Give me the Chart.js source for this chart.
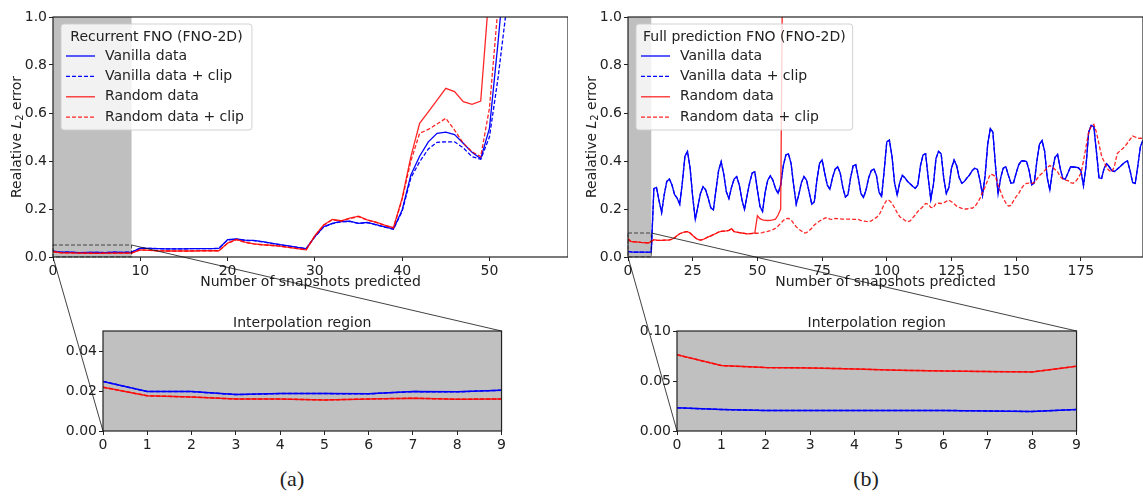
<!DOCTYPE html>
<html>
<head>
<meta charset="utf-8">
<script src="https://cdn.jsdelivr.net/npm/chart.js@4.4.0/dist/chart.umd.min.js"></script>
<style>
  body { margin: 0; background: #fff; width: 1143px; height: 497px; position: relative; overflow: hidden; }
  .wrap { position: absolute; }
  .cap { position: absolute; top: 466px; font-family: "Liberation Serif", serif; font-size: 22px; color: #222; transform: translateX(-50%); }
  #overlay { position: absolute; left: 0; top: 0; pointer-events: none; }
</style>
</head>
<body>
<div class="wrap" id="wrapA" style="left:0;top:0;width:568px;height:300px"><canvas id="mainA"></canvas></div>
<div class="wrap" id="wrapB" style="left:575px;top:0;width:568px;height:300px"><canvas id="mainB"></canvas></div>
<div class="wrap" id="wrapC" style="left:50px;top:305px;width:458px;height:160px"><canvas id="insetA"></canvas></div>
<div class="wrap" id="wrapD" style="left:624px;top:305px;width:459px;height:160px"><canvas id="insetB"></canvas></div>
<div class="cap" style="left:292px">(a)</div>
<div class="cap" style="left:866px">(b)</div>
<canvas id="overlay" width="1143" height="497"></canvas>

<script>
// --- data ---
const seriesNames = ['Vanilla data', 'Vanilla data + clip', 'Random data', 'Random data + clip'];

// (a) recurrent FNO, one value per predicted snapshot (values above 1 leave the plot)
const recVanilla = [0.0248, 0.0197, 0.0197, 0.0182, 0.0187, 0.0187, 0.0186, 0.0197, 0.0196, 0.0204,
  0.037, 0.036, 0.035, 0.034, 0.034, 0.034, 0.035, 0.035, 0.035, 0.036,
  0.072, 0.075, 0.070, 0.069, 0.064, 0.058, 0.052, 0.046, 0.040, 0.035,
  0.085, 0.126, 0.140, 0.148, 0.149, 0.140, 0.144, 0.135, 0.126, 0.117,
  0.196, 0.342, 0.420, 0.480, 0.515, 0.520, 0.510, 0.474, 0.436, 0.410,
  0.536, 0.900, 1.300];
const recVanillaClip = [0.0248, 0.0197, 0.0197, 0.0182, 0.0187, 0.0187, 0.0186, 0.0197, 0.0196, 0.0204,
  0.037, 0.036, 0.035, 0.034, 0.034, 0.034, 0.035, 0.035, 0.035, 0.036,
  0.071, 0.074, 0.069, 0.068, 0.063, 0.057, 0.051, 0.045, 0.040, 0.035,
  0.084, 0.125, 0.139, 0.147, 0.148, 0.140, 0.143, 0.134, 0.125, 0.116,
  0.190, 0.330, 0.397, 0.450, 0.478, 0.480, 0.480, 0.455, 0.418, 0.407,
  0.500, 0.750, 1.050, 1.500];
const recRandom = [0.0219, 0.0176, 0.0170, 0.0160, 0.0160, 0.0155, 0.0160, 0.0164, 0.0159, 0.0160,
  0.030, 0.028, 0.026, 0.025, 0.025, 0.025, 0.025, 0.026, 0.026, 0.026,
  0.058, 0.073, 0.062, 0.055, 0.051, 0.049, 0.045, 0.040, 0.035, 0.030,
  0.089, 0.133, 0.157, 0.151, 0.162, 0.170, 0.155, 0.145, 0.133, 0.122,
  0.245, 0.418, 0.557, 0.605, 0.654, 0.703, 0.689, 0.647, 0.636, 0.650,
  1.120, 1.600];
const recRandomClip = [0.0219, 0.0176, 0.0170, 0.0160, 0.0160, 0.0155, 0.0160, 0.0164, 0.0159, 0.0160,
  0.030, 0.028, 0.026, 0.025, 0.025, 0.025, 0.025, 0.026, 0.026, 0.026,
  0.057, 0.072, 0.061, 0.055, 0.051, 0.048, 0.045, 0.040, 0.035, 0.030,
  0.088, 0.132, 0.155, 0.150, 0.160, 0.168, 0.154, 0.144, 0.132, 0.121,
  0.240, 0.400, 0.515, 0.532, 0.554, 0.578, 0.529, 0.474, 0.439, 0.418,
  0.620, 1.050, 1.500];

// (b) full prediction FNO
const fullVanilla = [0.0232, 0.0215, 0.0205, 0.0205, 0.0205, 0.0205, 0.0205, 0.0201, 0.0195, 0.0215,
  0.285, 0.290, 0.235, 0.185, 0.260, 0.315, 0.325, 0.300, 0.260, 0.245,
  0.220, 0.310, 0.420, 0.440, 0.370, 0.250, 0.157, 0.210, 0.265, 0.293,
  0.280, 0.245, 0.205, 0.196, 0.280, 0.360, 0.397, 0.345, 0.272, 0.244,
  0.290, 0.325, 0.335, 0.300, 0.240, 0.198, 0.255, 0.310, 0.350, 0.355,
  0.280, 0.210, 0.190, 0.270, 0.320, 0.338, 0.320, 0.285, 0.265, 0.300,
  0.380, 0.425, 0.430, 0.390, 0.300, 0.220, 0.260, 0.310, 0.335, 0.320,
  0.270, 0.220, 0.230, 0.320, 0.390, 0.405, 0.350, 0.300, 0.282, 0.330,
  0.365, 0.376, 0.350, 0.290, 0.250, 0.260, 0.330, 0.380, 0.385, 0.330,
  0.265, 0.248, 0.280, 0.330, 0.360, 0.367, 0.340, 0.270, 0.252, 0.360,
  0.480, 0.487, 0.420, 0.310, 0.258, 0.310, 0.340, 0.330, 0.315, 0.305,
  0.295, 0.286, 0.300, 0.380, 0.425, 0.430, 0.330, 0.240, 0.300, 0.410,
  0.440, 0.430, 0.330, 0.265, 0.290, 0.370, 0.404, 0.380, 0.330, 0.307,
  0.315, 0.330, 0.342, 0.360, 0.370, 0.365, 0.320, 0.258, 0.340, 0.470,
  0.536, 0.520, 0.380, 0.262, 0.330, 0.370, 0.376, 0.340, 0.307, 0.310,
  0.350, 0.385, 0.400, 0.400, 0.398, 0.360, 0.300, 0.310, 0.400, 0.470,
  0.485, 0.440, 0.330, 0.279, 0.360, 0.415, 0.427, 0.370, 0.327, 0.325,
  0.350, 0.376, 0.375, 0.374, 0.372, 0.360, 0.297, 0.380, 0.520, 0.548,
  0.543, 0.440, 0.330, 0.327, 0.370, 0.389, 0.375, 0.360, 0.356, 0.366,
  0.375, 0.385, 0.395, 0.400, 0.360, 0.310, 0.307, 0.380, 0.460, 0.487];
// the clipped vanilla run lies on top of the plain one everywhere in (b)
const fullVanillaClip = fullVanilla.slice();
const fullRandom = [0.0762, 0.0654, 0.0634, 0.0631, 0.0621, 0.0607, 0.0601, 0.0594, 0.0591, 0.0648,
  0.072, 0.070, 0.069, 0.069, 0.070, 0.070, 0.071, 0.074, 0.080, 0.090,
  0.097, 0.101, 0.105, 0.106, 0.100, 0.090, 0.080, 0.073, 0.070, 0.073,
  0.078, 0.084, 0.088, 0.093, 0.098, 0.104, 0.107, 0.108, 0.109, 0.111,
  0.118, 0.106, 0.104, 0.102, 0.100, 0.098, 0.096, 0.097, 0.098, 0.100,
  0.172, 0.160, 0.155, 0.153, 0.152, 0.153, 0.155, 0.158, 0.175, 0.200,
  1.600, 2.500];
const fullRandomClip = [0.0762, 0.0654, 0.0634, 0.0631, 0.0621, 0.0607, 0.0601, 0.0594, 0.0591, 0.0648,
  0.072, 0.070, 0.069, 0.069, 0.070, 0.070, 0.071, 0.074, 0.080, 0.090,
  0.097, 0.101, 0.105, 0.106, 0.100, 0.090, 0.080, 0.073, 0.070, 0.073,
  0.078, 0.084, 0.088, 0.093, 0.098, 0.104, 0.107, 0.108, 0.109, 0.111,
  0.118, 0.106, 0.104, 0.102, 0.100, 0.098, 0.096, 0.097, 0.098, 0.099,
  0.099, 0.100, 0.102, 0.105, 0.107, 0.110, 0.114, 0.120, 0.129, 0.140,
  0.152, 0.160, 0.161, 0.155, 0.140, 0.126, 0.116, 0.108, 0.100, 0.102,
  0.110, 0.120, 0.133, 0.142, 0.150, 0.155, 0.162, 0.164, 0.158, 0.157,
  0.161, 0.160, 0.159, 0.158, 0.158, 0.158, 0.158, 0.157, 0.157, 0.157,
  0.152, 0.150, 0.148, 0.147, 0.150, 0.158, 0.165, 0.175, 0.196, 0.220,
  0.237, 0.235, 0.224, 0.205, 0.185, 0.168, 0.161, 0.152, 0.147, 0.150,
  0.163, 0.175, 0.190, 0.200, 0.210, 0.223, 0.220, 0.207, 0.205, 0.223,
  0.224, 0.223, 0.226, 0.232, 0.237, 0.230, 0.222, 0.212, 0.207, 0.203,
  0.200, 0.200, 0.205, 0.203, 0.210, 0.225, 0.244, 0.270, 0.293, 0.320,
  0.345, 0.342, 0.335, 0.300, 0.272, 0.245, 0.225, 0.212, 0.215, 0.235,
  0.252, 0.265, 0.285, 0.300, 0.307, 0.308, 0.307, 0.310, 0.325, 0.340,
  0.349, 0.360, 0.372, 0.381, 0.375, 0.365, 0.355, 0.335, 0.325, 0.320,
  0.318, 0.310, 0.307, 0.315, 0.330, 0.349, 0.400, 0.460, 0.520, 0.545,
  0.553, 0.520, 0.470, 0.420, 0.397, 0.370, 0.360, 0.355, 0.380, 0.430,
  0.442, 0.450, 0.460, 0.475, 0.490, 0.504, 0.500, 0.494, 0.495, 0.494];

// axes
const recTicksX = [0, 10, 20, 30, 40, 50];
const recMaxX = 59;
const fullTicksX = [0, 25, 50, 75, 100, 125, 150, 175];
const fullMaxX = 199;
const mainTicksY = [0, 0.2, 0.4, 0.6, 0.8, 1.0];
const insetTicksX = [0, 1, 2, 3, 4, 5, 6, 7, 8, 9];
const insetTicksYa = [0, 0.02, 0.04];
const insetTicksYb = [0, 0.05, 0.10];
const zoomBoxA = [0, 9, 0, 0.05];
const zoomBoxB = [0, 9, 0, 0.10];

const FONT = '"DejaVu Sans", sans-serif';
const INK = '#222';
const BLUE = '#0000ff';
const RED = 'rgba(255,0,0,0.85)';

Chart.defaults.font.family = FONT;
Chart.defaults.color = INK;

function series(label, values, color, dashed, width, order) {
  return {
    label: label,
    data: values.map((v, i) => ({ x: i, y: v })),
    borderColor: color,
    borderWidth: width,
    borderDash: dashed ? [4, 2] : [],
    pointRadius: 0,
    tension: 0,
    fill: false,
    order: order
  };
}

function fourSeries(a, b, c, d, width) {
  return [
    series(seriesNames[0], a, BLUE, false, width, 4),
    series(seriesNames[1], b, BLUE, true, width, 3),
    series(seriesNames[2], c, RED, false, width, 2),
    series(seriesNames[3], d, RED, true, width, 1)
  ];
}

function drawLegend(chart, title) {
  const { ctx, chartArea: a } = chart;
  ctx.font = '14px ' + FONT;
  const sets = chart.data.datasets;
  const tw = ctx.measureText(title).width;
  const lw = Math.max(...sets.map(d => ctx.measureText(d.label).width));
  const w = Math.max(tw + 14, 44 + lw + 8), h = 106;
  const bx = a.left + 8, by = a.top + 7;
  ctx.beginPath();
  ctx.roundRect(bx, by, w, h, 3);
  ctx.fillStyle = 'rgba(255,255,255,0.8)';
  ctx.fill();
  ctx.strokeStyle = 'rgba(204,204,204,0.9)';
  ctx.lineWidth = 1;
  ctx.stroke();
  ctx.fillStyle = INK;
  ctx.textBaseline = 'middle';
  ctx.textAlign = 'center';
  ctx.fillText(title, bx + w / 2, by + 13);
  ctx.textAlign = 'left';
  sets.forEach((d, i) => {
    const ry = by + 32 + i * 20.4;
    ctx.beginPath();
    ctx.setLineDash(d.borderDash);
    ctx.strokeStyle = d.borderColor;
    ctx.lineWidth = d.borderWidth;
    ctx.moveTo(bx + 5, ry);
    ctx.lineTo(bx + 34, ry);
    ctx.stroke();
    ctx.setLineDash([]);
    ctx.fillStyle = INK;
    ctx.fillText(d.label, bx + 44, ry);
  });
}

// "Realative L_2 error" with an italic L and a subscript 2
function drawYTitle(ctx, x, cy) {
  ctx.save();
  ctx.translate(x, cy);
  ctx.rotate(-Math.PI / 2);
  const parts = [
    ['Realative ', '14px ' + FONT, 0],
    ['L', 'italic 14px ' + FONT, 0],
    ['2', '10px ' + FONT, 3],
    [' error', '14px ' + FONT, 0]
  ];
  let total = 0;
  parts.forEach(p => { ctx.font = p[1]; p.push(ctx.measureText(p[0]).width); total += p[3]; });
  let cx = -total / 2;
  ctx.fillStyle = INK;
  ctx.textBaseline = 'middle';
  ctx.textAlign = 'left';
  parts.forEach(p => { ctx.font = p[1]; ctx.fillText(p[0], cx, p[2]); cx += p[3]; });
  ctx.restore();
}

const decor = {
  id: 'decor',
  beforeDatasetsDraw(chart, args, o) {
    const { ctx, chartArea: a, scales: { x } } = chart;
    ctx.save();
    if (o.bg) {
      ctx.fillStyle = o.bg;
      ctx.fillRect(a.left, a.top, a.width, a.height);
    }
    if (o.shade) {
      const x0 = x.getPixelForValue(o.shade[0]), x1 = x.getPixelForValue(o.shade[1]);
      ctx.fillStyle = '#bfbfbf';
      ctx.fillRect(x0, a.top, x1 - x0, a.height);
    }
    ctx.restore();
  },
  afterDatasetsDraw(chart, args, o) {
    const { ctx, chartArea: a, scales: { x, y } } = chart;
    ctx.save();
    if (o.zoomBox) {
      const [x0, x1, y0, y1] = o.zoomBox;
      const px0 = x.getPixelForValue(x0), px1 = x.getPixelForValue(x1);
      const py0 = y.getPixelForValue(y0), py1 = y.getPixelForValue(y1);
      ctx.setLineDash([4, 2]);
      ctx.strokeStyle = 'rgba(0,0,0,0.65)';
      ctx.lineWidth = 1;
      ctx.strokeRect(px0, py1, px1 - px0, py0 - py1);
      ctx.setLineDash([]);
    }
    if (o.legendTitle) drawLegend(chart, o.legendTitle);
    ctx.strokeStyle = INK;
    ctx.lineWidth = 1.2;
    ctx.strokeRect(a.left, a.top, a.width, a.height);
    if (o.title) {
      ctx.fillStyle = INK;
      ctx.font = '14px ' + FONT;
      ctx.textAlign = 'center';
      ctx.textBaseline = 'bottom';
      ctx.fillText(o.title, (a.left + a.right) / 2, a.top - 1);
    }
    if (o.yTitleX) drawYTitle(ctx, o.yTitleX, (a.top + a.bottom) / 2);
    ctx.restore();
  }
};

function axis(ticks, min, max, fmt, fit, extra) {
  return Object.assign({
    type: 'linear',
    min: min,
    max: max,
    afterBuildTicks: s => { s.ticks = ticks.map(v => ({ value: v })); },
    afterFit: fit,
    grid: { display: true, drawOnChartArea: false, drawTicks: true, tickLength: 4, color: INK, lineWidth: 1 },
    border: { display: false },
    ticks: { color: INK, font: { family: FONT, size: 14 }, padding: 2, maxRotation: 0, autoSkip: false, callback: fmt }
  }, extra || {});
}

function makeChart(id, datasets, scales, decorOpts, padTop) {
  return new Chart(document.getElementById(id), {
    type: 'line',
    data: { datasets: datasets },
    plugins: [decor],
    options: {
      responsive: true,
      maintainAspectRatio: false,
      animation: false,
      devicePixelRatio: 1,
      layout: { padding: { top: padTop, left: 0, right: 0, bottom: 0 } },
      plugins: { legend: { display: false }, tooltip: { enabled: false }, decor: decorOpts },
      scales: scales
    }
  });
}

const xTitle = { title: { display: true, text: 'Number of snapshots predicted', color: INK, font: { family: FONT, size: 14 }, padding: { top: 0, bottom: 9 } } };

const mainA = makeChart('mainA',
  fourSeries(recVanilla, recVanillaClip, recRandom, recRandomClip, 1.3),
  {
    x: axis(recTicksX, 0, recMaxX, v => String(v), s => { s.height = 43; }, xTitle),
    y: axis(mainTicksY, 0, 1, v => v.toFixed(1), s => { s.width = 53; })
  },
  { shade: [0, 9], zoomBox: zoomBoxA, legendTitle: 'Recurrent FNO (FNO-2D)', yTitleX: 17.5 }, 17);

const mainB = makeChart('mainB',
  fourSeries(fullVanilla, fullVanillaClip, fullRandom, fullRandomClip, 1.3),
  {
    x: axis(fullTicksX, 0, fullMaxX, v => String(v), s => { s.height = 43; }, xTitle),
    y: axis(mainTicksY, 0, 1, v => v.toFixed(1), s => { s.width = 53; })
  },
  { shade: [0, 9], zoomBox: zoomBoxB, legendTitle: 'Full prediction FNO (FNO-2D)', yTitleX: 17.5 }, 17);

const insetA = makeChart('insetA',
  fourSeries(recVanilla.slice(0, 10), recVanillaClip.slice(0, 10), recRandom.slice(0, 10), recRandomClip.slice(0, 10), 1.5),
  {
    x: axis(insetTicksX, 0, 9, v => String(v), s => { s.height = 34; }),
    y: axis(insetTicksYa, zoomBoxA[2], zoomBoxA[3], v => v.toFixed(2), s => { s.width = 53; })
  },
  { bg: '#c0c0c0', title: 'Interpolation region' }, 26);

const insetB = makeChart('insetB',
  fourSeries(fullVanilla.slice(0, 10), fullVanillaClip.slice(0, 10), fullRandom.slice(0, 10), fullRandomClip.slice(0, 10), 1.5),
  {
    x: axis(insetTicksX, 0, 9, v => String(v), s => { s.height = 34; }),
    y: axis(insetTicksYb, zoomBoxB[2], zoomBoxB[3], v => v.toFixed(2), s => { s.width = 53; })
  },
  { bg: '#c0c0c0', title: 'Interpolation region' }, 26);

// connector lines from the dashed box corners to the inset corners
const ov = document.getElementById('overlay').getContext('2d');
function pagePoint(chart, wrapId, xv, yv) {
  const w = document.getElementById(wrapId);
  return [w.offsetLeft + chart.scales.x.getPixelForValue(xv), w.offsetTop + chart.scales.y.getPixelForValue(yv)];
}
function connect(main, mainWrap, inset, insetWrap, box) {
  [[box[0], box[2]], [box[1], box[3]]].forEach(([xv, yv]) => {
    const p = pagePoint(main, mainWrap, xv, yv), q = pagePoint(inset, insetWrap, xv, yv);
    ov.beginPath();
    ov.moveTo(p[0], p[1]);
    ov.lineTo(q[0], q[1]);
    ov.strokeStyle = '#111';
    ov.lineWidth = 0.8;
    ov.stroke();
  });
}
connect(mainA, 'wrapA', insetA, 'wrapC', zoomBoxA);
connect(mainB, 'wrapB', insetB, 'wrapD', zoomBoxB);
</script>
</body>
</html>
